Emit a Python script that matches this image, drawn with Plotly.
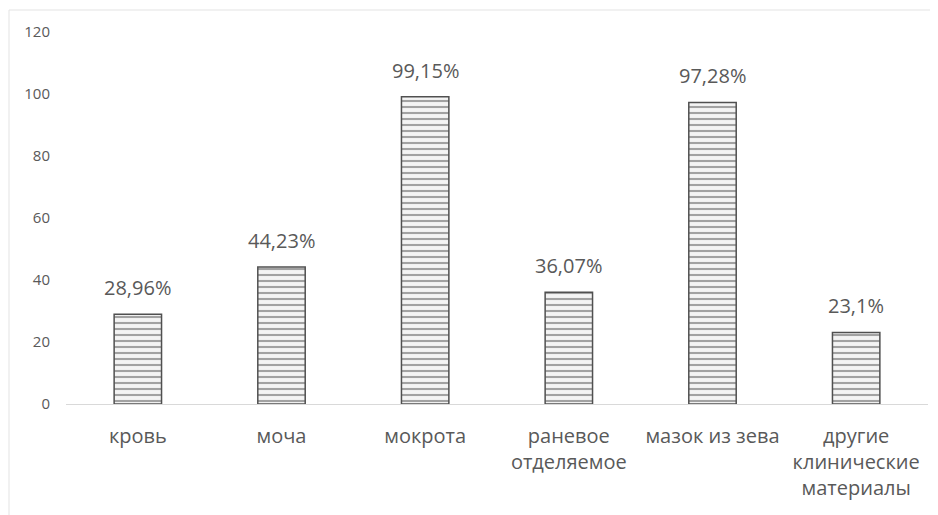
import plotly.graph_objects as go

categories = ["кровь", "моча", "мокрота", "раневое<br>отделяемое", "мазок из зева", "другие<br>клинические<br>материалы"]
values = [28.96, 44.23, 99.15, 36.07, 97.28, 23.1]
y_ticks = [0, 20, 40, 60, 80, 100, 120]

fig = go.Figure(go.Bar(
    x=categories, y=values,
    marker=dict(color="white",
                line=dict(color="#505050", width=1.5),
                pattern=dict(shape="-", fgcolor="#505050", bgcolor="#f4f4f4", size=6, solidity=0.35)),
    hoverinfo="skip",
))

for c, v in zip(categories, values):
    fig.add_annotation(x=c, y=v, text=f"{v:g}".replace(".", ",") + "%",
                       showarrow=False, yanchor="bottom", yshift=11,
                       font=dict(size=20, color="#595959"))

PW, PH = 862, 372
fig.update_layout(
    width=938, height=515,
    margin=dict(l=58, r=18, t=24, b=119),
    paper_bgcolor="white", plot_bgcolor="white",
    bargap=0.67,
    showlegend=False,
    font=dict(family="Open Sans, Liberation Sans, sans-serif", color="#595959"),
    xaxis=dict(showline=True, linecolor="#d9d9d9", linewidth=1,
               ticks="outside", ticklen=14, tickcolor="rgba(0,0,0,0)",
               tickfont=dict(size=20, color="#595959"), showgrid=False),
    yaxis=dict(range=[0, 120], tickvals=y_ticks, showgrid=False, zeroline=False,
               showline=False, tickfont=dict(size=15, color="#595959"),
               ticks="outside", ticklen=12, tickcolor="rgba(0,0,0,0)"),
    shapes=[dict(type="rect", xref="paper", yref="paper",
                 x0=-57 / PW, x1=(935 - 66) / PW,
                 y0=(404 - 530) / PH, y1=(404 - 10) / PH,
                 line=dict(color="#e3e3e3", width=1), layer="below")],
)

fig.write_html("out.html")
